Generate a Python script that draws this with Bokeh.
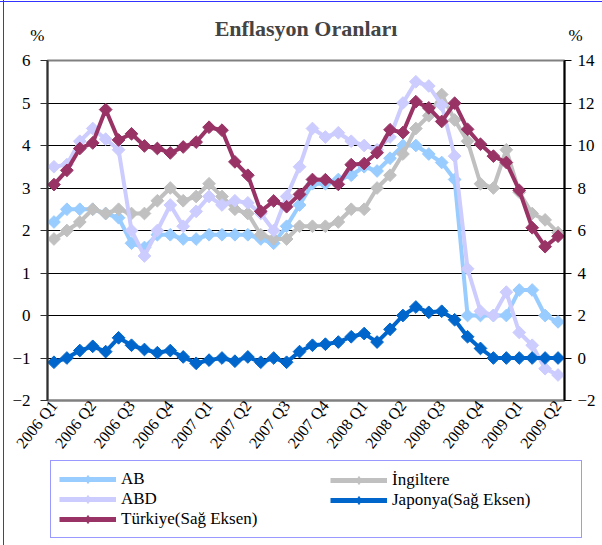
import math
from bokeh.plotting import figure
from bokeh.layouts import column
from bokeh.models import Range1d, LinearAxis, FixedTicker, Legend, LegendItem, Label
from bokeh.embed import file_html
from bokeh.resources import INLINE

# ---- data (monthly, Mar 2006 .. Jun 2009) ----
quarter_labels = ["2006 Q1", "2006 Q2", "2006 Q3", "2006 Q4",
                  "2007 Q1", "2007 Q2", "2007 Q3", "2007 Q4",
                  "2008 Q1", "2008 Q2", "2008 Q3", "2008 Q4",
                  "2009 Q1", "2009 Q2"]

ab = [2.2, 2.5, 2.5, 2.5, 2.4, 2.3, 1.7, 1.6, 1.9, 1.9,
      1.8, 1.8, 1.9, 1.9, 1.9, 1.9, 1.8, 1.7, 2.1, 2.6,
      3.1, 3.1, 3.2, 3.3, 3.5, 3.4, 3.7, 4.0, 4.0, 3.8,
      3.6, 3.2, 0.0, 0.0, 0.0, 0.0, 0.6, 0.6, 0.0, -0.15]

ingiltere = [1.8, 2.0, 2.2, 2.5, 2.4, 2.5, 2.4, 2.4, 2.7, 3.0,
             2.7, 2.8, 3.1, 2.8, 2.5, 2.4, 1.9, 1.8, 1.8, 2.1,
             2.1, 2.1, 2.2, 2.5, 2.5, 3.0, 3.3, 3.8, 4.4, 4.7,
             5.2, 4.6, 4.1, 3.1, 3.0, 3.9, 2.9, 2.4, 2.25, 1.95]

abd = [3.5, 3.55, 4.1, 4.4, 4.15, 3.9, 2.0, 1.4, 2.0, 2.6,
       2.1, 2.45, 2.8, 2.6, 2.7, 2.65, 2.4, 2.0, 2.8, 3.5,
       4.4, 4.2, 4.3, 4.1, 4.0, 3.9, 4.2, 5.0, 5.5, 5.4,
       4.95, 3.75, 1.1, 0.1, 0.0, 0.55, -0.4, -0.7, -1.25, -1.4]

japonya = [-0.2, 0.0, 0.35, 0.55, 0.3, 0.95, 0.6, 0.4, 0.25, 0.35,
           0.05, -0.25, -0.1, 0.0, -0.15, 0.05, -0.2, 0.0, -0.2, 0.3,
           0.6, 0.65, 0.75, 1.0, 1.15, 0.75, 1.35, 2.0, 2.4, 2.15,
           2.2, 1.8, 1.0, 0.45, 0.0, 0.0, 0.0, 0.0, 0.0, 0.0]

turkiye = [8.16, 8.83, 9.86, 10.12, 11.69, 10.26, 10.55, 9.98, 9.86, 9.65,
           9.93, 10.16, 10.86, 10.72, 9.23, 8.6, 6.9, 7.39, 7.12, 7.7,
           8.4, 8.39, 8.17, 9.1, 9.15, 9.66, 10.74, 10.61, 12.06, 11.77,
           11.13, 11.99, 10.76, 10.06, 9.5, 9.2, 7.89, 6.13, 5.24, 5.73]

left_ticks = [-2, -1, 0, 1, 2, 3, 4, 5, 6]
right_ticks = [-2, 0, 2, 4, 6, 8, 10, 12, 14]

title_text = "Enflasyon Oranları"
unit_text = "%"

months = list(range(len(ab)))
q_pos = [i * 3 for i in range(len(quarter_labels))]

FONT = "Liberation Serif"
W = 602
FRAME_W = 517
LB, RB = 47, 38  # side borders of the chart frame
HEAD_H = 50
MAIN_TOP = 10
MAIN_H = MAIN_TOP + 340 + 60
LEG_H = 545 - HEAD_H - MAIN_H
BLUE = "#3333FF"


def no_frame_align(f):
    if "frame_align" in f.properties():
        f.frame_align = False
        return True
    return False


# ---- header: title and the two unit signs ----
head = figure(width=W, height=HEAD_H, output_backend="svg", toolbar_location=None,
              x_range=Range1d(0, FRAME_W), y_range=Range1d(HEAD_H, 0),
              x_axis_type=None, min_border_left=LB, min_border_right=RB,
              min_border_top=0, min_border_bottom=0, outline_line_color=None,
              background_fill_color=None, border_fill_color=None)
no_frame_align(head)
head.grid.visible = False
unit_y = 35
for ax, stand in ((head.yaxis[0], 3), (LinearAxis(), 4)):
    ax.ticker = FixedTicker(ticks=[unit_y])
    ax.major_label_overrides = {unit_y: unit_text}
    ax.axis_line_color = None
    ax.major_tick_line_color = None
    ax.minor_tick_line_color = None
    ax.major_tick_out = 0
    ax.major_tick_in = 0
    ax.major_label_standoff = stand
    ax.major_label_text_font = FONT
    ax.major_label_text_font_size = "17px"
    ax.major_label_text_color = "black"
    if stand == 4:
        head.add_layout(ax, "right")
head.add_layout(Label(x=FRAME_W / 2, y=28, text=title_text, text_font=FONT,
                      text_font_size="22px", text_font_style="bold",
                      text_align="center", text_baseline="alphabetic"))

# ---- main chart ----
p = figure(width=W, height=MAIN_H, output_backend="svg", toolbar_location=None,
           x_range=Range1d(-0.5, len(ab) - 0.5), y_range=Range1d(-2, 6),
           min_border_left=LB, min_border_right=RB, min_border_top=MAIN_TOP,
           min_border_bottom=60, background_fill_color="white",
           border_fill_color=None)
p.extra_y_ranges = {"right": Range1d(-2, 14)}

p.outline_line_color = "#808080"
p.outline_line_width = 2

p.xgrid.visible = False
p.ygrid.ticker = FixedTicker(ticks=left_ticks[1:-1])
p.ygrid.grid_line_color = "#000000"
p.ygrid.grid_line_width = 1

ya = p.yaxis[0]
ya.ticker = FixedTicker(ticks=left_ticks)
ya.axis_line_color = "#303030"
ya.axis_line_width = 2
ya.major_tick_line_color = "#303030"
ya.major_tick_out = 7
ya.major_tick_in = 0
ya.minor_tick_out = 0
ya.minor_tick_in = 0
ya.major_label_standoff = 10
ya.major_label_text_font = FONT
ya.major_label_text_font_size = "17px"
ya.major_label_text_color = "black"

ra = LinearAxis(y_range_name="right", ticker=FixedTicker(ticks=right_ticks))
ra.axis_line_color = "#000000"
ra.axis_line_width = 2
ra.major_tick_line_color = "#000000"
ra.major_tick_out = 7
ra.major_tick_in = 0
ra.minor_tick_out = 0
ra.minor_tick_in = 0
ra.major_label_standoff = 6
ra.major_label_text_font = FONT
ra.major_label_text_font_size = "17px"
ra.major_label_text_color = "black"
p.add_layout(ra, "right")

xa = p.xaxis[0]
xa.ticker = FixedTicker(ticks=q_pos)
xa.major_label_overrides = {q: lab for q, lab in zip(q_pos, quarter_labels)}
xa.major_label_orientation = 0.9
xa.axis_line_color = "#808080"
xa.axis_line_width = 2
xa.major_tick_out = 0
xa.major_tick_in = 0
xa.minor_tick_out = 0
xa.minor_tick_in = 0
xa.major_label_standoff = 2
xa.major_label_text_font = FONT
xa.major_label_text_font_size = "16px"
xa.major_label_text_color = "black"

series = [
    ("AB", ab, "#99CCFF", "default"),
    ("İngiltere", ingiltere, "#C0C0C0", "default"),
    ("ABD", abd, "#CCCCFF", "default"),
    ("Japonya(Sağ Eksen)", japonya, "#0066CC", "right"),
    ("Türkiye(Sağ Eksen)", turkiye, "#993366", "right"),
]
for name, vals, col, rng in series:
    p.line(months, vals, line_color=col, line_width=4, y_range_name=rng)
    p.scatter(months, vals, marker="square", angle=math.pi / 4, size=9,
              fill_color=col, line_color=col, y_range_name=rng)

# ---- legend strip (its plot ranges lie outside the data, so only the
#      legend samples of these proxy renderers are drawn) ----
lf = figure(width=W, height=LEG_H, output_backend="svg", toolbar_location=None,
            x_range=Range1d(-20, -19), y_range=Range1d(-20, -19),
            x_axis_type=None, y_axis_type=None,
            min_border_left=0, min_border_right=0, min_border_top=0,
            min_border_bottom=0, outline_line_color=None,
            background_fill_color=None, border_fill_color=None)
free = no_frame_align(lf)
lf.grid.visible = False
frame_left = 0 if free else LB
frame_right = W if free else W - RB

items = {}
for name, vals, col, rng in series:
    lr = lf.line(months, vals, line_color=col, line_width=5)
    sr = lf.scatter(months, vals, marker="diamond", size=16,
                    fill_color=col, line_color=col)
    items[name] = LegendItem(label=name, renderers=[lr, sr])

pad, row_h, glyph_w, stand = 8, 20, 57, 5
box_left = 50
box_right = min(580, frame_right - 1)
colA = ["AB", "ABD", "Türkiye(Sağ Eksen)"]
colB = ["İngiltere", "Japonya(Sağ Eksen)"]
hA = len(colA) * row_h + 2 * pad
hB = len(colB) * row_h + 2 * pad


def mk(names, loc, lw, border):
    lg = Legend(items=[items[n] for n in names], location=loc,
                orientation="vertical", padding=pad, spacing=0, margin=0,
                glyph_width=glyph_w, glyph_height=row_h, label_height=row_h,
                label_standoff=stand, label_text_font=FONT,
                label_text_font_size="17px", label_text_color="black")
    if lw:
        lg.label_width = lw
    if border:
        lg.border_line_color = BLUE
        lg.border_line_width = 1
        lg.background_fill_color = "white"
    else:
        lg.border_line_alpha = 0
        lg.background_fill_alpha = 0
    return lg

lwA = (box_right - box_left) - 2 * pad - glyph_w - stand
lf.add_layout(mk(colA, (box_left - frame_left, LEG_H - 2 - hA), lwA, True))
lf.add_layout(mk(colB, (330 - pad - frame_left, LEG_H - 2 - hB), None, False))

layout = column(head, p, lf, spacing=0)
layout.styles = {
    "background": (f"linear-gradient({BLUE},{BLUE}) 3px 0/1px 100% no-repeat, "
                   f"linear-gradient({BLUE},{BLUE}) 0 1px/100% 1px no-repeat, white")
}

open("out.html", "w").write(file_html(layout, INLINE))
